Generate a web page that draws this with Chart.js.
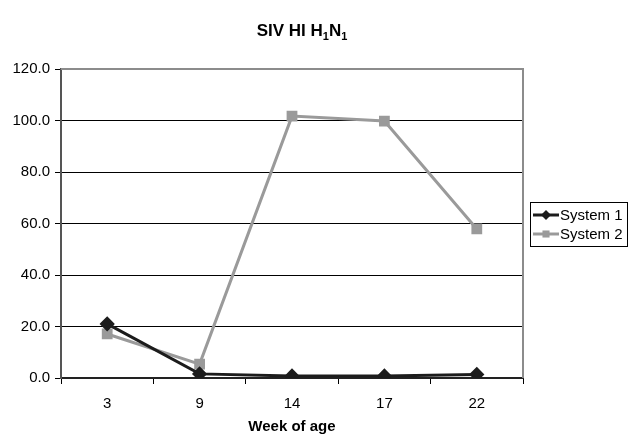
<!DOCTYPE html>
<html><head><meta charset="utf-8">
<script src="https://cdn.jsdelivr.net/npm/chart.js@4/dist/chart.umd.min.js"></script>
<style>html,body{margin:0;padding:0;background:#fff}#wrap{width:630px;height:434px}</style>
</head><body><div id="wrap"><canvas id="c" width="630" height="434"></canvas></div>
<script>
const weeks = ['3','9','14','17','22'];
const system1 = [21.0, 1.6, 0.8, 0.8, 1.4];
const system2 = [17.1, 5.4, 101.7, 99.8, 57.9];
const seriesNames = ['System 1','System 2'];
const yTicks = [0,20,40,60,80,100,120];
const FONT = '"Liberation Sans", Arial, sans-serif';
const C1 = '#1c1c1c', C2 = '#9a9a9a';

const overlay = {
  id:'overlay',
  afterDraw(chart){
    const ctx = chart.ctx, a = chart.chartArea;
    ctx.save();
    ctx.strokeStyle = '#8c8c8c'; ctx.lineWidth = 2;
    ctx.beginPath(); ctx.moveTo(a.left, a.top); ctx.lineTo(a.right, a.top); ctx.lineTo(a.right, a.bottom); ctx.stroke();
    ctx.fillStyle = '#000'; ctx.textBaseline = 'alphabetic'; ctx.textAlign='left';
    const parts = [['SIV HI H',17,0],['1',11,4],['N',17,0],['1',11,4]];
    let w = 0;
    parts.forEach(p=>{ctx.font='bold '+p[1]+'px '+FONT; w+=ctx.measureText(p[0]).width;});
    let x = 302 - w/2;
    parts.forEach(p=>{ctx.font='bold '+p[1]+'px '+FONT; ctx.fillText(p[0], x, 36+p[2]); x+=ctx.measureText(p[0]).width;});
    const lx=530, ly=202, lw=97, lh=44;
    ctx.strokeStyle='#000'; ctx.lineWidth=1;
    ctx.strokeRect(lx+0.5, ly+0.5, lw, lh);
    const rows=[[C1,'rectRot',5],[C2,'rect',5]];
    rows.forEach((r,i)=>{
      const yy = ly+13+i*19;
      ctx.strokeStyle=r[0]; ctx.lineWidth=3;
      ctx.beginPath(); ctx.moveTo(lx+3,yy); ctx.lineTo(lx+29,yy); ctx.stroke();
      ctx.fillStyle=r[0];
      Chart.helpers.drawPoint(ctx,{pointStyle:r[1],radius:r[2],rotation:0},lx+16,yy);
      ctx.fillStyle='#000'; ctx.font='15px '+FONT; ctx.textBaseline='middle'; ctx.textAlign='left';
      ctx.fillText(chart.data.datasets[i].label, lx+30, yy+1);
    });
    ctx.restore();
  }
};

new Chart(document.getElementById('c'), {
  type:'line',
  data:{labels:weeks, datasets:[
    {label:seriesNames[0], data:system1, borderColor:C1, backgroundColor:C1, borderWidth:3, pointStyle:'rectRot', pointRadius:5.5, pointHoverRadius:5.5, tension:0, order:1},
    {label:seriesNames[1], data:system2, borderColor:C2, backgroundColor:C2, borderWidth:3, pointStyle:'rect', pointRadius:5.5, pointHoverRadius:5.5, tension:0, order:2}
  ]},
  options:{
    responsive:false, animation:false, devicePixelRatio:1,
    layout:{padding:{top:69,right:107,left:0,bottom:0}},
    plugins:{legend:{display:false}, title:{display:false}, tooltip:{enabled:false}},
    scales:{
      x:{
        offset:true,
        grid:{offset:true, drawOnChartArea:false, drawTicks:true, tickLength:6, color:'#000', lineWidth:1},
        border:{display:true, color:'#222', width:2},
        ticks:{color:'#000', font:{family:FONT,size:15}, padding:11},
        title:{display:true, text:'Week of age', color:'#000', font:{family:FONT,size:15,weight:'bold',lineHeight:1.0}, padding:{top:9,bottom:0}},
        afterFit(s){s.height=56;}
      },
      y:{
        min:0, max:120,
        afterBuildTicks(s){s.ticks = yTicks.map(v=>({value:v}));},
        grid:{color:'#000', lineWidth:1, tickLength:6, drawTicks:true},
        border:{display:true, color:'#555', width:2},
        ticks:{color:'#000', font:{family:FONT,size:15}, padding:5, callback:v=>Number(v).toFixed(1)},
        afterFit(s){s.width=61;}
      }
    }
  },
  plugins:[overlay]
});
</script></body></html>
